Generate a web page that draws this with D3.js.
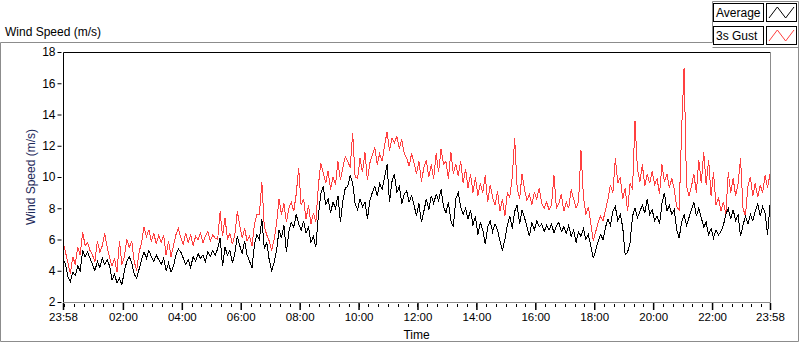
<!DOCTYPE html>
<html>
<head>
<meta charset="utf-8">
<script src="https://cdn.jsdelivr.net/npm/d3@7"></script>
<style>
  html, body { margin: 0; padding: 0; background: #ffffff; }
  svg { display: block; font-family: "Liberation Sans", Arial, sans-serif; }
</style>
</head>
<body>
<svg id="chart" width="800" height="342"></svg>
<script>
// ---------- data (5-minute samples, 23:58 -> 23:58 next day) ----------
const startLabel = "23:58";
const stepMinutes = 5;
const avgSpeed = [
  4.8, 4.4, 3.6, 3.3,  3.9, 3.7, 4.3, 4.0,  5.3, 4.9, 5.2, 4.8,  4.4, 4.0, 4.6, 4.2,
  4.8, 4.4, 4.7, 4.3,  3.4, 3.8, 3.2, 3.5,  3.1, 4.0, 4.6, 4.9,  4.5, 3.8, 3.5, 4.1,
  4.7, 5.2, 4.8, 5.3,  4.9, 4.6, 5.0, 4.7,  4.4, 4.8, 4.0, 4.5,  3.9, 4.3, 5.0, 5.4,
  5.2, 4.8, 4.4, 4.7,  4.2, 4.9, 4.6, 5.1,  4.8, 5.0, 4.6, 5.2,  4.9, 5.3, 5.0, 5.4,
  6.1, 4.3, 5.5, 5.0,  5.3, 4.5, 5.1, 6.2,  5.6, 5.1, 5.9, 5.0,  4.6, 4.2, 5.7, 6.3,
  6.0, 7.3, 5.4, 5.8,  4.7, 4.0, 4.5, 5.3,  6.6, 6.1, 6.9, 5.2,  6.5, 7.1, 6.8, 7.6,
  7.0, 6.6, 7.2, 6.4,  6.8, 5.8, 6.2, 5.5,  7.5, 8.9, 9.4, 8.2,  8.6, 7.7, 8.4, 8.0,
  8.8, 7.1, 8.5, 9.3,  9.4, 10.1, 9.6, 8.3, 7.9, 8.6, 8.1, 8.4,  7.3, 8.5, 9.0, 9.4,
  8.8, 9.6, 9.2, 10.0, 10.8, 8.4, 9.7, 10.2, 9.0, 9.4, 8.3, 8.9,  9.1, 8.4, 8.8, 8.2,
  7.5, 8.3, 7.1, 7.8,  8.6, 7.9, 8.8, 8.3,  8.9, 8.5, 9.2, 8.1,  7.7, 8.4, 7.2, 6.8,
  8.6, 9.0, 8.1, 7.6,  8.0, 7.3, 7.9, 6.9,  7.5, 6.3, 7.1, 6.6,  5.7, 6.8, 7.2, 6.5,
  7.0, 6.6, 5.9, 5.3,  6.0, 6.9, 7.5, 6.7,  7.8, 8.2, 7.0, 7.9,  7.4, 6.8, 6.2, 7.1,
  6.6, 7.2, 6.8, 7.0,  6.5, 6.9, 6.6, 7.0,  6.4, 6.9, 7.1, 6.5,  6.8, 6.4, 6.9, 6.2,
  6.6, 5.8, 6.5, 6.2,  6.7, 6.0, 6.3, 5.6,  4.8, 5.3, 5.9, 6.3,  6.0, 6.8, 7.3, 6.9,
  7.8, 8.1, 7.2, 7.6,  6.8, 5.0, 5.2, 5.8,  7.5, 8.0, 7.4, 7.8,  8.2, 7.7, 8.6, 7.6,
  7.9, 7.2, 7.5, 7.0,  8.3, 9.0, 7.8, 8.2,  7.6, 7.9, 6.6, 6.1,  7.1, 7.6, 6.9, 7.4,
  7.9, 8.4, 7.5, 8.0,  7.4, 6.8, 7.1, 6.3,  6.7, 6.1, 6.6, 6.3,  6.5, 6.9, 7.6, 8.0,
  7.3, 7.9, 7.2, 7.6,  6.2, 6.9, 7.5, 7.0,  7.6, 7.2, 7.8, 8.3,  7.5, 8.1, 7.7, 6.3,
  8.2
];
const gustSpeed = [
  5.8, 5.2, 4.5, 3.8,  4.9, 4.4, 5.5, 5.0,  6.5, 5.6, 5.8, 5.3,  5.0, 4.6, 5.9, 5.2,
  5.6, 6.4, 5.5, 4.8,  4.3, 4.8, 3.9, 5.9,  4.4, 4.9, 6.0, 5.5,  5.9, 4.6, 4.0, 5.2,
  5.8, 6.8, 6.2, 6.6,  5.9, 6.4, 5.7, 6.3,  5.8, 6.3, 5.0, 5.9,  4.9, 5.6, 6.3, 6.7,
  6.1, 5.7, 6.4, 5.8,  6.3, 5.6, 6.2, 6.0,  6.4, 5.8, 6.2, 6.5,  5.9, 6.3, 6.1, 6.0,
  7.8, 6.2, 7.4, 6.0,  6.4, 5.7, 6.3, 7.8,  6.9, 6.1, 6.7, 5.9,  6.2, 5.6, 7.0, 7.6,
  7.6, 9.7, 6.8, 6.3,  5.9, 5.3, 6.0, 7.0,  8.6, 7.6, 8.3, 7.1,  8.0, 8.4, 7.8, 8.9,
  10.6, 8.2, 8.6, 7.3, 8.2, 7.0, 7.7, 7.1,  9.4, 10.9, 10.3, 9.6, 10.4, 9.2, 10.0, 9.5,
  11.0, 9.8, 10.6, 11.3, 11.0, 10.6, 12.8, 10.0, 9.9, 11.2, 10.3, 11.6, 9.8, 10.9, 11.4, 11.9,
  10.8, 11.5, 11.0, 12.0, 12.9, 11.7, 12.5, 12.2, 12.6, 11.8, 12.4, 11.5, 11.2, 10.7, 11.5, 10.9,
  10.2, 11.0, 9.7, 10.6, 11.1, 10.0, 10.8, 9.9, 11.5, 10.3, 11.8, 10.8, 11.0, 9.9, 11.6, 10.2,
  10.8, 10.1, 11.0, 9.6, 10.5, 9.3, 10.2, 9.0, 10.0, 8.8, 9.6, 9.0,  10.1, 8.4, 9.5, 8.7,
  8.2, 9.1, 7.8, 8.6,  7.5, 9.0, 8.7, 10.0, 12.5, 9.3, 8.6, 10.2, 9.2, 8.5, 8.9, 8.2,
  9.0, 8.6, 9.3, 8.3,  8.0, 8.4, 7.9, 8.2,  10.1, 8.0, 8.3, 8.9, 7.8, 8.4, 8.0, 9.2,
  8.6, 8.0, 8.4, 11.7, 8.7, 7.6, 8.1, 7.0,  5.9, 6.5, 7.1, 7.5,  7.2, 7.9, 8.6, 9.5,
  9.0, 11.2, 9.6, 10.0, 8.6, 9.3, 7.8, 9.6,  9.2, 13.6, 10.5, 9.7, 10.8, 9.4, 10.2, 9.6,
  10.4, 9.5, 9.9, 8.9, 10.8, 9.7, 10.2, 9.3, 9.9, 9.2, 8.1, 7.9,  13.0, 17.0, 9.4, 8.8,
  9.4, 10.2, 9.0, 11.1, 9.6, 11.6, 9.5, 11.1, 8.8, 10.3, 8.2, 8.7,  7.8, 8.4, 7.6, 10.3,
  9.0, 9.9, 8.8, 9.6,  11.2, 8.0, 7.5, 9.4, 10.0, 8.8, 9.6, 8.7,  9.5, 9.0, 10.1, 9.3,
  10.2
];
const seriesNames = ["Average", "3s Gust"];
const seriesColors = ["#000000", "#ff4040"];
const yTicks = [2, 4, 6, 8, 10, 12, 14, 16, 18];
const xTickLabels = ["23:58", "02:00", "04:00", "06:00", "08:00", "10:00", "12:00",
                     "14:00", "16:00", "18:00", "20:00", "22:00", "23:58"];

// ---------- layout ----------
const svg = d3.select("#chart");
const plot = { left: 63, top: 52, right: 770, bottom: 302 };
const start = new Date(2000, 0, 1, 23, 58);
const end = new Date(2000, 0, 2, 23, 58);
const times = avgSpeed.map((_, i) => d3.timeMinute.offset(start, i * stepMinutes));

const x = d3.scaleTime().domain([start, end]).range([plot.left, plot.right]);
const y = d3.scaleLinear().domain([2, 18]).range([plot.bottom, plot.top]);

// outer frame
const gray = "#8c8c8c";
svg.append("path")
  .attr("d", `M0.5,341.5 L0.5,42.5 L712.5,42.5 M712.5,42.5 L712.5,1.5 L798.5,1.5 L798.5,341.5 L0.5,341.5 M712.5,47.5 L798.5,47.5`)
  .attr("fill", "none").attr("stroke", gray).attr("stroke-width", 1);

// top title
svg.append("text").attr("x", 5).attr("y", 36).attr("font-size", 12).attr("fill", "#000")
  .text("Wind Speed (m/s)");

// plot background
svg.append("rect").attr("x", plot.left).attr("y", plot.top)
  .attr("width", plot.right - plot.left).attr("height", plot.bottom - plot.top)
  .attr("fill", "#fff");

// clip
svg.append("clipPath").attr("id", "clip").append("rect")
  .attr("x", plot.left + 1).attr("y", plot.top + 1)
  .attr("width", plot.right - plot.left - 1).attr("height", plot.bottom - plot.top - 1);

const line = (arr) => d3.line()
  .x((d, i) => x(times[i]))
  .y(d => y(d))(arr);

const lines = svg.append("g").attr("clip-path", "url(#clip)");
lines.append("path").attr("d", line(gustSpeed))
  .attr("fill", "none").attr("stroke", seriesColors[1]).attr("stroke-width", 1)
  .attr("shape-rendering", "crispEdges");
lines.append("path").attr("d", line(avgSpeed))
  .attr("fill", "none").attr("stroke", seriesColors[0]).attr("stroke-width", 1)
  .attr("shape-rendering", "crispEdges");

// plot frame: top/left black, right/bottom gray
svg.append("path")
  .attr("d", `M${plot.left + 0.5},${plot.bottom} L${plot.left + 0.5},${plot.top + 0.5} L${plot.right + 0.5},${plot.top + 0.5}`)
  .attr("fill", "none").attr("stroke", "#000");
svg.append("path")
  .attr("d", `M${plot.right + 0.5},${plot.top + 0.5} L${plot.right + 0.5},${plot.bottom + 0.5} L${plot.left},${plot.bottom + 0.5}`)
  .attr("fill", "none").attr("stroke", gray);

// y axis
const yAxis = svg.append("g").attr("transform", `translate(${plot.left - 0.5},0)`)
  .call(d3.axisLeft(y).tickValues(yTicks).tickSize(4).tickPadding(3).tickFormat(d3.format("d")));
yAxis.select(".domain").remove();
yAxis.selectAll(".tick line").attr("stroke", "#000").attr("transform", "translate(-1,0)");
yAxis.selectAll(".tick text").attr("font-size", 12).attr("fill", "#000")
  .attr("font-family", "Liberation Sans, Arial, sans-serif");

// x axis: minor ticks
const minorTimes = d3.timeMinute.every(20).range(start, end).filter(t => t > start);
svg.append("g").selectAll("line").data(minorTimes).join("line")
  .attr("x1", d => Math.round(x(d)) + 0.5).attr("x2", d => Math.round(x(d)) + 0.5)
  .attr("y1", plot.bottom + 2).attr("y2", plot.bottom + 5)
  .attr("stroke", "#000");

// x axis: major labelled ticks
const majorTimes = [start];
for (let h = 2; h <= 22; h += 2) majorTimes.push(new Date(2000, 0, 2, h, 0));
majorTimes.push(end);
const xAxis = svg.append("g").attr("transform", `translate(0,${plot.bottom + 1})`)
  .call(d3.axisBottom(x).tickValues(majorTimes).tickSize(7).tickPadding(3)
    .tickFormat((d, i) => xTickLabels[i]));
xAxis.select(".domain").remove();
xAxis.selectAll(".tick line").attr("stroke", "#000").attr("stroke-width", 1.5);
xAxis.selectAll(".tick text").attr("font-size", 11.5).attr("fill", "#000")
  .attr("font-family", "Liberation Sans, Arial, sans-serif");

// axis titles
svg.append("text").attr("x", (plot.left + plot.right) / 2).attr("y", 339)
  .attr("text-anchor", "middle").attr("font-size", 12).attr("fill", "#000").text("Time");
svg.append("text")
  .attr("transform", `translate(35,${(plot.top + plot.bottom) / 2}) rotate(-90)`)
  .attr("text-anchor", "middle").attr("font-size", 12).attr("fill", "#1e2a5a")
  .text("Wind Speed (m/s)");

// legend
const legend = svg.append("g");
seriesNames.forEach((name, i) => {
  const top = 3 + i * 23;
  legend.append("rect").attr("x", 713.5).attr("y", top + 0.5).attr("width", 50).attr("height", 18)
    .attr("fill", "#fff").attr("stroke", "#000");
  legend.append("text").attr("x", 716).attr("y", top + 14).attr("font-size", 12).attr("fill", "#000")
    .text(name);
  legend.append("rect").attr("x", 766.5).attr("y", top + 0.5).attr("width", 30).attr("height", 18)
    .attr("fill", "#fff").attr("stroke", "#000");
  const sx = d3.scaleLinear().domain([0, 3]).range([769, 794]);
  const sy = d3.scaleLinear().domain([0, 1]).range([top + 15, top + 4]);
  legend.append("path")
    .attr("d", d3.line().x((d, k) => sx(k)).y(d => sy(d))([0, 1, 0, 1]))
    .attr("fill", "none").attr("stroke", seriesColors[i]).attr("stroke-width", 1);
});
</script>
</body>
</html>
